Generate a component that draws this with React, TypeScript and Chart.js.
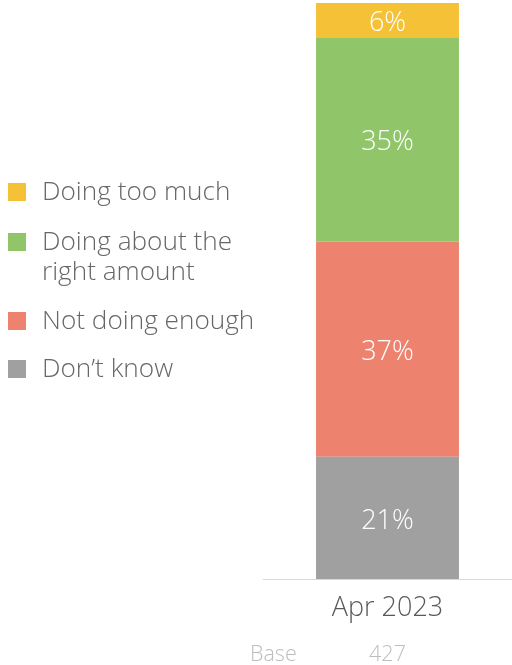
import React, { useEffect, useRef } from "react";
import { Chart, registerables } from "chart.js";

Chart.register(...registerables);

const categories = ["Apr 2023"];
const seriesLabels = ["Don’t know", "Not doing enough", "Doing about the right amount", "Doing too much"];
const legendLines = [["Don’t know"], ["Not doing enough"], ["Doing about the", "right amount"], ["Doing too much"]];
const dontKnow = [21];
const notEnough = [37];
const aboutRight = [35];
const tooMuch = [6];
const seriesColors = ["#A0A0A0", "#ED836F", "#90C56A", "#F5C137"];
const baseLabel = "Base";
const baseValues = ["427"];

const FONT = "'Open Sans', 'Noto Sans', sans-serif";

export default function App() {
  const ref = useRef<HTMLCanvasElement | null>(null);
  useEffect(() => {
    if (!ref.current) return;
    const values = [dontKnow, notEnough, aboutRight, tooMuch];
    const dataLabels = {
      id: "dataLabels",
      afterDatasetsDraw(chart: any) {
        const ctx = chart.ctx;
        ctx.save();
        ctx.fillStyle = "#ffffff";
        ctx.font = `300 27px ${FONT}`;
        ctx.textAlign = "center";
        ctx.textBaseline = "middle";
        chart.data.datasets.forEach((ds: any, i: number) => {
          const meta = chart.getDatasetMeta(i);
          meta.data.forEach((el: any, j: number) => {
            const y = (el.y + el.base) / 2 + 3;
            ctx.fillText(ds.data[j] + "%", el.x, y);
          });
        });
        ctx.restore();
      },
    };
    const legendYs = [370, 322, 243, 193];
    const customLegend = {
      id: "customLegend",
      afterDraw(chart: any) {
        const ctx = chart.ctx;
        ctx.save();
        ctx.font = `300 26.2px ${FONT}`;
        ctx.textAlign = "left";
        ctx.textBaseline = "middle";
        chart.data.datasets.forEach((ds: any, i: number) => {
          const y = legendYs[i];
          ctx.fillStyle = ds.backgroundColor;
          ctx.fillRect(8, y - 10, 18, 18);
          ctx.fillStyle = "#676767";
          legendLines[i].forEach((line: string, k: number) => {
            ctx.fillText(line, 42, y + k * 30);
          });
        });
        // base row
        ctx.font = `300 21.5px ${FONT}`;
        ctx.fillStyle = "#bdbdbd";
        ctx.textAlign = "left";
        ctx.fillText(baseLabel, 250, 655);
        ctx.textAlign = "center";
        const meta = chart.getDatasetMeta(0);
        meta.data.forEach((el: any, j: number) => {
          ctx.fillText(baseValues[j], el.x, 655);
        });
        ctx.restore();
      },
    };
    const chart = new Chart(ref.current, {
      type: "bar",
      data: {
        labels: categories,
        datasets: seriesLabels.map((label, i) => ({
          label,
          data: values[i],
          backgroundColor: seriesColors[i],
          borderWidth: 0,
          barPercentage: 0.574,
          categoryPercentage: 1,
        })),
      },
      options: {
        responsive: false,
        animation: false,
        layout: { padding: { left: 263, top: 3, right: 0, bottom: 0 } },
        plugins: { legend: { display: false }, tooltip: { enabled: false } },
        scales: {
          x: {
            stacked: true,
            grid: { display: false },
            border: { display: true, color: "#d9d9d9", width: 1 },
            ticks: { color: "#595959", font: { family: FONT, size: 27, weight: "300" as any }, padding: 5 },
            afterFit(scale: any) {
              scale.height = 86;
            },
          },
          y: {
            stacked: true,
            display: false,
            min: 0,
            max: 99,
          },
        },
      },
      plugins: [dataLabels, customLegend],
    });
    return () => chart.destroy();
  }, []);
  return (
    <div style={{ position: "absolute", left: 0, top: 0, width: 512, height: 665 }}>
      <canvas ref={ref} width={512} height={665} style={{ display: "block" }} />
    </div>
  );
}
